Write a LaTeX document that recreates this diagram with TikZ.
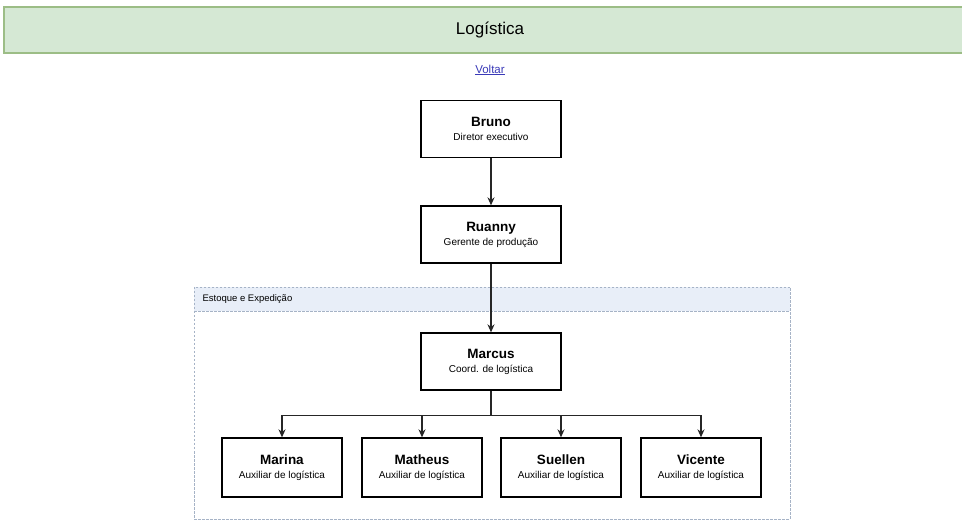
\documentclass[tikz,border=0pt]{standalone}
\usepackage{fontspec}
\setmainfont{Liberation Sans}
\usetikzlibrary{arrows.meta,calc}
\definecolor{barfill}{HTML}{D5E8D4}
\definecolor{bardraw}{HTML}{9CBD86}
\definecolor{grpdraw}{HTML}{A6B3C6}
\definecolor{grpfill}{HTML}{E8EEF8}
\definecolor{linkblue}{HTML}{3A3AB8}
\tikzset{
  person/.style={draw=black, line width=1.3pt, fill=white, align=center,
    inner sep=2pt, font=\fontsize{13.5}{15}\selectfont\bfseries},
  boss/.style={person, minimum width=140pt, minimum height=57pt},
  aux/.style={person, minimum width=120pt, minimum height=59pt},
  wire/.style={draw=black!85, line width=1.2pt},
  link/.style={wire, -{Stealth[length=8pt,width=7pt]}},
}
\newcommand{\rolefont}{\fontsize{10}{12}\selectfont\mdseries}
\begin{document}
\begin{tikzpicture}[x=1pt,y=-1pt]
  \useasboundingbox (0,0) rectangle (962,521);
  \fill[white] (0,0) rectangle (962,521);

  % title bar
  \draw[fill=barfill, draw=bardraw, line width=1.3pt] (4,7) rectangle (963,53);
  \node (title) at (490,30) {\fontsize{17}{19}\selectfont Logística};
  \node[text=linkblue] (voltar) at (490,70) {\fontsize{11.5}{13}\selectfont\underline{Voltar}};

  % group container
  \fill[grpfill] (194,287) rectangle (790,311);
  \draw[grpdraw, dash pattern=on 2.5pt off 1.5pt, line width=0.8pt] (194,311) -- (790,311);
  \draw[grpdraw, dash pattern=on 2.5pt off 1.5pt, line width=0.9pt] (194,287) rectangle (790,519);
  \node[anchor=west] (grp) at (199,299) {\fontsize{9.5}{11}\selectfont Estoque e Expedição};

  % people
  \node[boss] (bruno) at (491,129) {Bruno\\[-1pt]{\rolefont Diretor executivo}};
  \node[boss] (ruanny) at (491,234.5) {Ruanny\\[-1pt]{\rolefont Gerente de produção}};
  \node[boss] (marcus) at (491,361.5) {Marcus\\[-1pt]{\rolefont Coord. de logística}};

  \node[aux] (marina) at (282,467.5) {Marina\\[-1pt]{\rolefont Auxiliar de logística}};
  \node[aux] (matheus) at (422,467.5) {Matheus\\[-1pt]{\rolefont Auxiliar de logística}};
  \node[aux] (suellen) at (561,467.5) {Suellen\\[-1pt]{\rolefont Auxiliar de logística}};
  \node[aux] (vicente) at (701,467.5) {Vicente\\[-1pt]{\rolefont Auxiliar de logística}};

  % connectors
  \draw[link] (bruno) -- (ruanny);
  \draw[link] (ruanny) -- (marcus);
  \coordinate (bus) at ($(marcus.south)+(0,25)$);
  \draw[wire] (marcus.south) -- (bus);
  \foreach \c in {marina,matheus,suellen,vicente}
    \draw[link] (bus) -| (\c.north);
\end{tikzpicture}
\end{document}
